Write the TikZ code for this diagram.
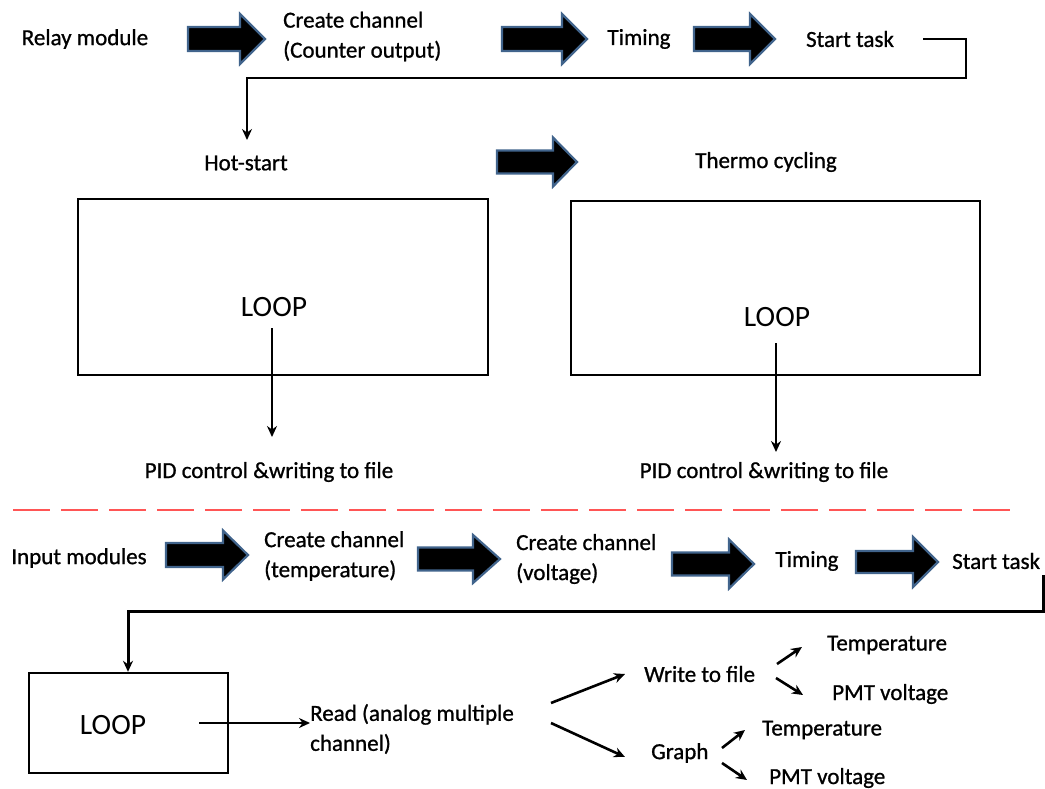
\documentclass[tikz,border=0pt]{standalone}
\usepackage{fontspec}
\setmainfont{Carlito}
\newfontfamily\labelfont{Carlito}[FakeBold=0.9]
\usetikzlibrary{arrows.meta}
\definecolor{arrowedge}{RGB}{65,100,140}
\definecolor{dashred}{RGB}{255,85,85}
\newcommand{\blockarr}[6]{% x1 x2 xhead ycenter shafthalf headhalf
  \draw[bigarrow] (#1,#4-#5) -- (#3,#4-#5) -- (#3,#4-#6) -- (#2,#4) -- (#3,#4+#6) -- (#3,#4+#5) -- (#1,#4+#5) -- cycle;}
\begin{document}
\begin{tikzpicture}[x=1pt,y=-1pt,
  lbl/.style={font=\labelfont\fontsize{23}{30}\selectfont, inner sep=0pt, align=left},
  looplbl/.style={font=\fontsize{29.5}{34}\selectfont, inner sep=0pt},
  bigarrow/.style={fill=black, draw=arrowedge, line width=2.2pt, line join=miter},
  boxnode/.style={draw=black, line width=2.4pt, inner sep=0pt},
  conn/.style={draw=black, line width=2pt},
  thick conn/.style={draw=black, line width=3pt},
  branch/.style={draw=black, line width=2.6pt},
  tip/.style={-{Stealth[length=11pt,width=10pt]}},
]
\useasboundingbox (0,0) rectangle (1045,789);

% ---------- top row ----------
\node[lbl] (relay) at (85,39) {Relay module};
\node[lbl, anchor=west] (cc1) at (283,36.5) {Create channel\\(Counter output)};
\node[lbl] (timing1) at (639,39) {Timing};
\node[lbl] (start1) at (850,39) {Start task};

\blockarr{188}{265}{240}{39}{12}{25}
\blockarr{502}{587}{562}{39}{12}{25}
\blockarr{694}{775}{750}{39}{12}{25}

\node[lbl] (hot) at (246,163) {Hot-start};
\node[lbl] (thermo) at (766,162) {Thermo cycling};
\blockarr{497}{577}{553}{162}{11.5}{24.5}

\draw[conn, tip] ([xshift=29pt]start1.east |- 0,39) -- (966,39) -- (966,78) -- (247,78) -- (247,140);

% ---------- boxes ----------
\node[boxnode, minimum width=410pt, minimum height=176pt] (box1) at (283,287) {};
\node[boxnode, minimum width=409pt, minimum height=174pt] (box2) at (775.5,288) {};
\node[looplbl] (loop1) at (274,307) {LOOP};
\node[looplbl] (loop2) at (777,317) {LOOP};
\node[lbl] (pid1) at (269,472) {PID control \&writing to file};
\node[lbl] (pid2) at (764,472) {PID control \&writing to file};
\draw[conn, tip] (272,328) -- (272,437);
\draw[conn, tip] (776,343) -- (776,452);

% ---------- separator ----------
\draw[dashred, line width=1.4pt, dash pattern=on 37pt off 11pt] (13,510) -- (1012,510);

% ---------- bottom row ----------
\node[lbl] (input) at (79,558) {Input modules};
\node[lbl, anchor=west] (cc2) at (264,556) {Create channel\\(temperature)};
\node[lbl, anchor=west] (cc3) at (516,559) {Create channel\\(voltage)};
\node[lbl] (timing2) at (807,561) {Timing};
\node[lbl, anchor=west] (start2) at (952,561) {Start task};

\blockarr{166}{248}{223}{555}{12}{24.5}
\blockarr{418}{500}{473}{559}{11.5}{24}
\blockarr{672}{754}{729}{564}{11.5}{24.5}
\blockarr{856}{938}{913}{562}{11}{25}

\node[boxnode, minimum width=199pt, minimum height=100pt] (box3) at (128.5,723) {};
\node[looplbl] (loop3) at (113,725) {LOOP};

\draw[thick conn, tip] (1043,575) -- (1043,611) -- (128,611) -- (box3.north -| 128,0);

\node[lbl, anchor=west] (read) at (310,729) {Read (analog multiple\\channel)};
\draw[conn, tip] (199,723) -- (read.west |- 0,723);

\node[lbl, anchor=west] (write) at (644,674) {Write to file};
\node[lbl, anchor=west] (graph) at (651,753) {Graph};
\node[lbl, anchor=west] (temp1) at (827,645) {Temperature};
\node[lbl, anchor=west] (pmt1) at (832,694) {PMT voltage};
\node[lbl, anchor=west] (temp2) at (762,730) {Temperature};
\node[lbl, anchor=west] (pmt2) at (769,778) {PMT voltage};

\draw[branch, tip] (551,703) -- (625,674);
\draw[branch, tip] (551,723) -- (625,757);
\draw[branch, tip] (777,664) -- (802,647);
\draw[branch, tip] (776,678) -- (803,695);
\draw[branch, tip] (722,748) -- (745,730);
\draw[branch, tip] (722,763) -- (747,780);
\end{tikzpicture}
\end{document}
